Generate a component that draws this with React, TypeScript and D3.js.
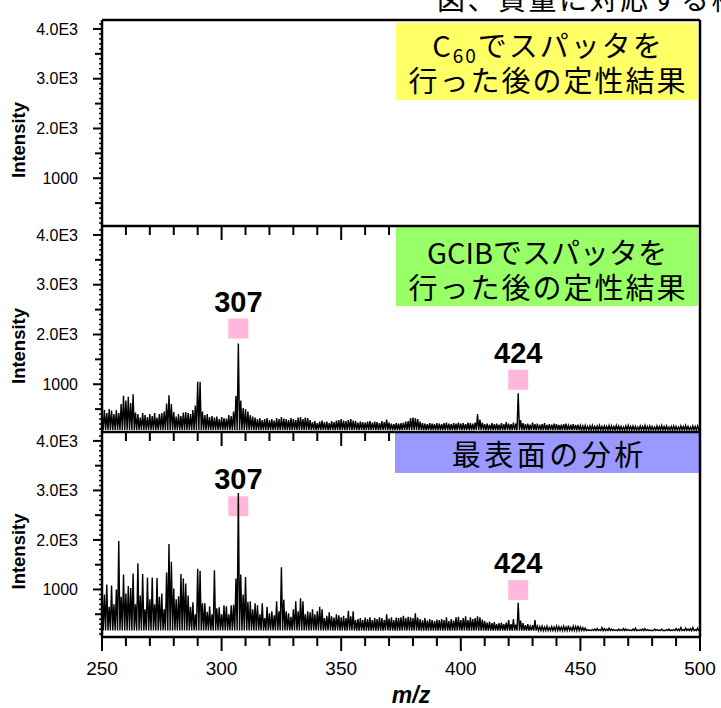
import React from 'react'
import * as d3 from 'd3'

// m/z axis, one intensity per nominal mass starting at 250
const mzStart = 250
const xTicks = [250, 300, 350, 400, 450, 500]
const yTicks = [1000, 2000, 3000, 4000]

// GCIB sputtered spectrum (middle panel), m/z 250..500
const gcibIntensity = [
  450, 480, 420, 500, 470, 400, 480, 420, 600, 770,
  670, 750, 620, 800, 430, 400, 330, 420, 380, 340,
  400, 360, 420, 330, 400, 420, 450, 610, 780, 600,
  440, 350, 400, 360, 430, 440, 420, 400, 480, 570,
  1050, 1050, 450, 380, 400, 340, 360, 330, 350, 300,
  340, 320, 310, 380, 360, 450, 770, 1820, 670, 520,
  500, 450, 380, 350, 330, 300, 320, 280, 300, 320,
  280, 300, 270, 320, 300, 340, 310, 300, 280, 320,
  300, 280, 330, 340, 300, 330, 320, 280, 240, 260,
  220, 250, 270, 240, 250, 220, 260, 240, 270, 280,
  300, 270, 260, 280, 300, 270, 260, 230, 250, 240,
  230, 250, 260, 230, 250, 240, 220, 260, 240, 290,
  230, 210, 200, 220, 210, 220, 230, 250, 260, 320,
  330, 320, 300, 250, 220, 210, 200, 220, 210, 200,
  220, 210, 200, 220, 230, 210, 200, 220, 210, 230,
  210, 220, 200, 230, 220, 210, 230, 400, 290, 230,
  200, 210, 190, 220, 200, 210, 190, 220, 200, 240,
  210, 200, 230, 210, 820, 280, 220, 200, 210, 190,
  230, 200, 210, 190, 200, 220, 180, 200, 190, 210,
  200, 180, 190, 200, 210, 170, 190, 200, 180, 190,
  170, 160, 170, 150, 160, 170, 150, 160, 170, 150,
  160, 150, 170, 160, 150, 170, 160, 150, 140, 160,
  170, 150, 160, 150, 140, 160, 150, 170, 150, 160,
  150, 140, 160, 150, 170, 150, 160, 140, 150, 160,
  150, 140, 160, 150, 170, 150, 140, 160, 150, 160,
  150,
]

// outermost surface spectrum (bottom panel), m/z 250..500
const surfaceIntensity = [
  1050, 900, 1100, 650, 1080, 700, 1000, 1980, 850, 1300,
  920, 1070, 1030, 1320, 700, 1530, 880, 1310, 600, 1240,
  800, 1240, 700, 1230, 850, 920, 600, 1340, 1920, 1560,
  1020, 800, 860, 1310, 1220, 1120, 880, 650, 740, 500,
  1420, 1380, 720, 720, 550, 660, 500, 1390, 620, 640,
  500, 680, 660, 500, 680, 690, 1220, 2950, 1300, 900,
  1250, 750, 760, 600, 720, 680, 500, 720, 420, 650,
  520, 560, 480, 760, 560, 1450, 790, 560, 520, 450,
  600, 760, 560, 820, 760, 500, 560, 540, 600, 500,
  560, 650, 600, 420, 470, 540, 460, 430, 500, 480,
  440, 470, 420, 570, 460, 560, 380, 400, 420, 380,
  430, 400, 440, 380, 420, 400, 440, 420, 380, 500,
  410, 440, 380, 430, 420, 440, 470, 420, 450, 440,
  420, 520, 430, 400, 380, 420, 370, 400, 380, 360,
  390, 380, 400, 380, 440, 360, 400, 370, 440, 450,
  380, 420, 460, 380, 440, 400, 420, 460, 440, 390,
  360, 330, 350, 320, 340, 300, 320, 330, 300, 330,
  380, 300, 400, 290, 730, 370, 320, 280, 300, 260,
  280, 380, 260, 250, 260, 240, 260, 230, 250, 240,
  260, 250, 240, 260, 240, 270, 230, 260, 250, 270,
  240, 230, 220, 190, 180, 190, 200, 210, 190, 230,
  210, 200, 220, 200, 190, 180, 200, 190, 210, 200,
  190, 180, 200, 220, 180, 190, 200, 210, 190, 180,
  170, 200, 190, 180, 200, 170, 190, 200, 180, 190,
  210, 200, 230, 190, 220, 200, 210, 230, 190, 220,
  200,
]

// valley level between nominal masses, per spectrum
const noiseFloor = [80, 170]

const panelTitles = [
  ['C60でスパッタを', '行った後の定性結果'],
  ['GCIBでスパッタを', '行った後の定性結果'],
  ['最表面の分析'],
]
const panelColors = ['#ffff66', '#99ff66', '#9999ff']

// labelled peaks: m/z and the level of the pink marker
const gcibPeaks = [
  { mz: 307, marker: 2120 },
  { mz: 424, marker: 1090 },
]
const surfacePeaks = [
  { mz: 307, marker: 2680 },
  { mz: 424, marker: 990 },
]

function Spectra() {
  const svgRef = React.useRef(null)

  React.useEffect(() => {
    const svg = d3.select(svgRef.current)
    svg.selectAll('*').remove()

    const numFont = '"Liberation Sans", Arial, sans-serif'
    const jpFont = '"Noto Sans CJK JP", sans-serif'
    const left = 102
    const right = 700

    const panels = [
      { top: 20, bottom: 226, data: null, floor: 0, peaks: [] },
      { top: 226, bottom: 432, data: gcibIntensity, floor: noiseFloor[0], peaks: gcibPeaks },
      { top: 432, bottom: 637, data: surfaceIntensity, floor: noiseFloor[1], peaks: surfacePeaks },
    ]

    const xScale = d3.scaleLinear().domain([250, 500]).range([left, right])

    // header text cut off at the top of the page
    svg
      .append('text')
      .attr('x', 437)
      .attr('y', 10)
      .attr('font-family', jpFont)
      .attr('font-size', 28)
      .attr('letter-spacing', 2.5)
      .text('図、質量に対応する構造')

    const defs = svg.append('defs')

    panels.forEach((p, pi) => {
      const yScale = d3.scaleLinear().domain([40, 4180]).range([p.bottom, p.top])
      const g = svg.append('g')

      defs
        .append('clipPath')
        .attr('id', `clip${pi}`)
        .append('rect')
        .attr('x', left)
        .attr('y', p.top)
        .attr('width', right - left)
        .attr('height', p.bottom - p.top)

      // pink markers sit behind the trace
      p.peaks.forEach((pk) => {
        const cx = xScale(pk.mz)
        const cy = yScale(pk.marker)
        g.append('rect')
          .attr('x', cx - 10)
          .attr('y', cy - 10)
          .attr('width', 20)
          .attr('height', 20)
          .attr('fill', '#ffb8dc')
        g.append('text')
          .attr('x', cx)
          .attr('y', cy - 17)
          .attr('text-anchor', 'middle')
          .attr('font-family', numFont)
          .attr('font-weight', 'bold')
          .attr('font-size', 29)
          .text(String(pk.mz))
      })

      if (p.data) {
        const pts = []
        p.data.forEach((v, i) => {
          const mz = mzStart + i
          if (i > 0) pts.push([mz - 0.5, p.floor])
          pts.push([mz, v])
        })
        const line = d3
          .line()
          .x((d) => xScale(d[0]))
          .y((d) => yScale(d[1]))
        g.append('path')
          .attr('d', line(pts))
          .attr('fill', 'none')
          .attr('stroke', 'black')
          .attr('stroke-width', 1.4)
          .attr('clip-path', `url(#clip${pi})`)
      }

      // y ticks: minor every 100, medium every 500, major every 1000
      d3.range(100, 4180, 100).forEach((v) => {
        const len = v % 1000 === 0 ? 9 : v % 500 === 0 ? 7 : 3
        g.append('line')
          .attr('x1', left - len)
          .attr('x2', left)
          .attr('y1', yScale(v))
          .attr('y2', yScale(v))
          .attr('stroke', 'black')
          .attr('stroke-width', v % 500 === 0 ? 2 : 1.5)
      })
      yTicks.forEach((v) => {
        g.append('text')
          .attr('x', 78)
          .attr('y', yScale(v))
          .attr('dy', '0.35em')
          .attr('text-anchor', 'end')
          .attr('font-family', numFont)
          .attr('font-size', 16)
          .text(v >= 2000 ? (v / 1000).toFixed(1) + 'E3' : String(v))
      })

      // y label
      g.append('text')
        .attr('transform', `translate(25, ${(p.top + p.bottom) / 2 + 17}) rotate(-90)`)
        .attr('text-anchor', 'middle')
        .attr('font-family', numFont)
        .attr('font-weight', 'bold')
        .attr('font-size', 18)
        .attr('textLength', 76)
        .attr('lengthAdjust', 'spacingAndGlyphs')
        .text('Intensity')

      // x ticks, pointing down from each panel's bottom edge
      d3.range(250, 501, 10).forEach((v) => {
        const len = v % 50 === 0 ? 14 : 9
        g.append('line')
          .attr('x1', xScale(v))
          .attr('x2', xScale(v))
          .attr('y1', p.bottom)
          .attr('y2', p.bottom + len)
          .attr('stroke', 'black')
          .attr('stroke-width', 2)
      })
    })

    // tick labels on the bottom axis
    const last = panels[2]
    xTicks.forEach((v) => {
      svg
        .append('text')
        .attr('x', xScale(v))
        .attr('y', last.bottom + 38)
        .attr('text-anchor', 'middle')
        .attr('font-family', numFont)
        .attr('font-size', 19)
        .text(String(v))
    })
    svg
      .append('text')
      .attr('x', 411)
      .attr('y', 703)
      .attr('text-anchor', 'middle')
      .attr('font-family', numFont)
      .attr('font-weight', 'bold')
      .attr('font-style', 'italic')
      .attr('font-size', 23)
      .text('m/z')

    // title boxes (drawn over the ticks of the panel above)
    const boxes = [
      { x: 396, y: 23, w: 302, h: 77, base: [57, 92], spacing: [2, 2] },
      { x: 396, y: 227, w: 302, h: 79, base: [264, 299], spacing: [0, 2] },
      { x: 395, y: 433, w: 305, h: 40, base: [466], spacing: [3.5] },
    ]
    boxes.forEach((b, bi) => {
      svg
        .append('rect')
        .attr('x', b.x)
        .attr('y', b.y)
        .attr('width', b.w)
        .attr('height', b.h)
        .attr('fill', panelColors[bi])
      panelTitles[bi].forEach((line, li) => {
        const t = svg
          .append('text')
          .attr('x', b.x + b.w / 2 + b.spacing[li] / 2)
          .attr('y', b.base[li])
          .attr('text-anchor', 'middle')
          .attr('font-family', jpFont)
          .attr('font-size', 29)
          .attr('letter-spacing', b.spacing[li])
        if (line.startsWith('C60')) {
          t.append('tspan').text('C')
          t.append('tspan').attr('font-size', 19).attr('dy', 6).text('60')
          t.append('tspan').attr('dy', -6).text(line.slice(3))
        } else {
          t.text(line)
        }
      })
    })

    // frame lines
    const frame = svg.append('g').attr('stroke', 'black').attr('stroke-width', 2.5)
    frame.append('line').attr('x1', left).attr('x2', left).attr('y1', 20).attr('y2', last.bottom)
    frame.append('line').attr('x1', right).attr('x2', right).attr('y1', 20).attr('y2', last.bottom)
    panels.forEach((p) => {
      frame.append('line').attr('x1', left).attr('x2', right).attr('y1', p.top).attr('y2', p.top)
    })
    frame.append('line').attr('x1', left).attr('x2', right).attr('y1', last.bottom).attr('y2', last.bottom)
  }, [])

  return <svg ref={svgRef} width={721} height={708} style={{ position: 'absolute', left: 0, top: 0 }}></svg>
}

export default function App() {
  return <Spectra />
}
